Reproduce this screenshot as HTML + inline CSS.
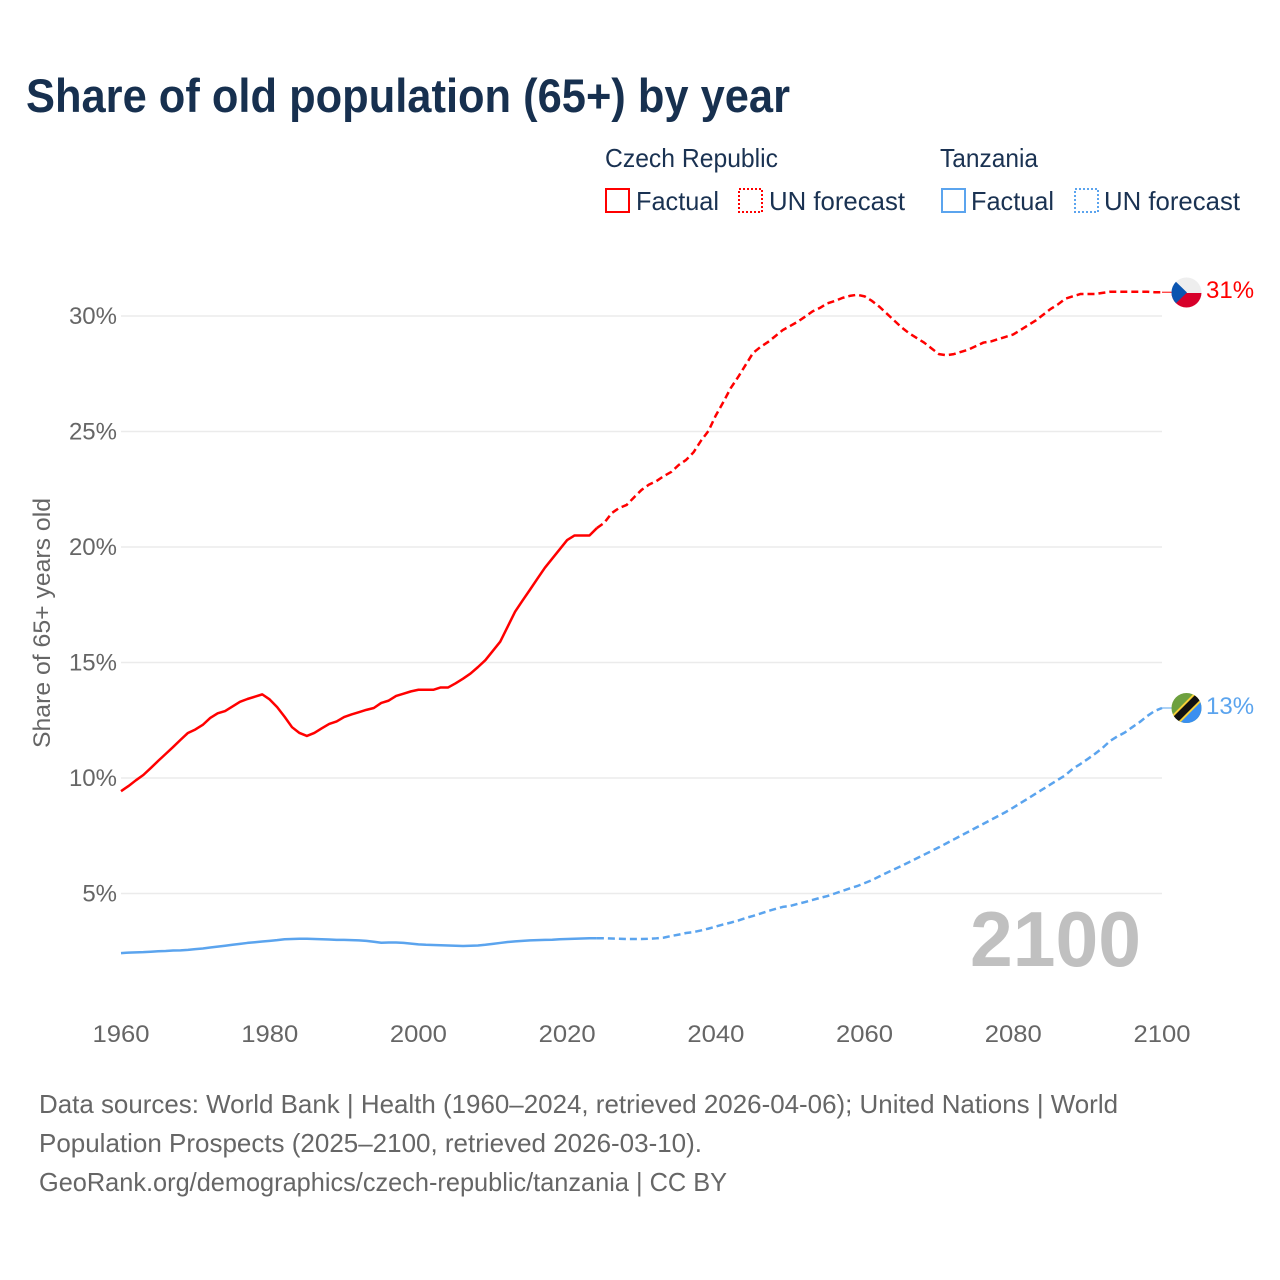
<!DOCTYPE html>
<html lang="en">
<head>
<meta charset="utf-8">
<title>Share of old population (65+) by year</title>
<style>
html,body{margin:0;padding:0;background:#fff;}
svg{display:block;font-family:"Liberation Sans",sans-serif;}
.leg{font-size:26px;fill:#1a3252;}
.foot{font-size:26px;fill:#666;}
.tick{font-size:24px;fill:#666;}
</style>
</head>
<body>
<svg id="chart" width="1280" height="1280" viewBox="0 0 1280 1280" xmlns="http://www.w3.org/2000/svg">
  <defs>
    <clipPath id="clip-cz"><circle cx="1186.5" cy="292.5" r="15"/></clipPath>
    <clipPath id="clip-tz"><circle cx="1186.5" cy="708" r="15"/></clipPath>
  </defs>
  <rect width="1280" height="1280" fill="#fff"/>
  <text x="26" y="112" font-size="47" font-weight="700" fill="#17304f" textLength="764" lengthAdjust="spacingAndGlyphs">Share of old population (65+) by year</text>

  <text class="leg" x="605" y="167" textLength="173" lengthAdjust="spacingAndGlyphs">Czech Republic</text>
  <text class="leg" x="940" y="167" textLength="98" lengthAdjust="spacingAndGlyphs">Tanzania</text>

  <g>
    <rect x="606" y="189" width="23" height="23" fill="none" stroke="#ff0000" stroke-width="2"/>
    <text class="leg" x="636" y="210" textLength="83" lengthAdjust="spacingAndGlyphs">Factual</text>
  </g>
  <g>
    <rect x="739" y="189" width="23" height="23" fill="none" stroke="#ff0000" stroke-width="2" stroke-dasharray="2 2"/>
    <text class="leg" x="769" y="210" textLength="136" lengthAdjust="spacingAndGlyphs">UN forecast</text>
  </g>
  <g>
    <rect x="942" y="189" width="23" height="23" fill="none" stroke="#5ba4ee" stroke-width="2"/>
    <text class="leg" x="971" y="210" textLength="83" lengthAdjust="spacingAndGlyphs">Factual</text>
  </g>
  <g>
    <rect x="1075" y="189" width="23" height="23" fill="none" stroke="#5ba4ee" stroke-width="2" stroke-dasharray="2 2"/>
    <text class="leg" x="1104" y="210" textLength="136" lengthAdjust="spacingAndGlyphs">UN forecast</text>
  </g>

  <g id="grid"></g>
  <g id="yticks"></g>
  <g id="xticks"></g>

  <text transform="translate(50,748) rotate(-90)" font-size="24" fill="#666" textLength="250" lengthAdjust="spacingAndGlyphs">Share of 65+ years old</text>

  <text x="970" y="966" font-size="78" font-weight="700" fill="#c0c0c0" textLength="171" lengthAdjust="spacingAndGlyphs">2100</text>

  <g id="series"></g>

  <g clip-path="url(#clip-cz)">
    <rect x="1171" y="277" width="31" height="16" fill="#eeeeee"/>
    <rect x="1171" y="293" width="31" height="16" fill="#d7002a"/>
    <polygon points="1171,277 1187,292.5 1171,308" fill="#0b55b0"/>
  </g>
  <text id="label-cz" x="1206" y="298" font-size="24" fill="#ff0000">31%</text>

  <g clip-path="url(#clip-tz)">
    <rect x="1171" y="692" width="32" height="32" fill="#6da03f"/>
    <polygon points="1203,692 1203,724 1171,724" fill="#3a8ff0"/>
    <line x1="1173" y1="722" x2="1201" y2="694" stroke="#f7d038" stroke-width="11"/>
    <line x1="1173" y1="722" x2="1201" y2="694" stroke="#111111" stroke-width="7"/>
  </g>
  <text id="label-tz" x="1206" y="714" font-size="24" fill="#5ba4ee">13%</text>

  <text class="foot" x="39" y="1113" textLength="1079" lengthAdjust="spacingAndGlyphs">Data sources: World Bank | Health (1960–2024, retrieved 2026-04-06); United Nations | World</text>
  <text class="foot" x="39" y="1152" textLength="663" lengthAdjust="spacingAndGlyphs">Population Prospects (2025–2100, retrieved 2026-03-10).</text>
  <text class="foot" x="39" y="1191" textLength="688" lengthAdjust="spacingAndGlyphs">GeoRank.org/demographics/czech-republic/tanzania | CC BY</text>
</svg>
<script>
const yTickValues = [5, 10, 15, 20, 25, 30];
const xTickYears = [1960, 1980, 2000, 2020, 2040, 2060, 2080, 2100];
const factualStartYear = 1960;
const forecastStartYear = 2024;

const czechFactual = [
  9.43, 9.65, 9.9, 10.13, 10.43, 10.74, 11.04, 11.34, 11.65, 11.95,
  12.1, 12.3, 12.6, 12.8, 12.9, 13.1, 13.3, 13.42, 13.52, 13.62,
  13.4, 13.07, 12.65, 12.2, 11.95, 11.82, 11.95, 12.15, 12.34, 12.45,
  12.64, 12.75, 12.85, 12.95, 13.03, 13.25, 13.35, 13.55, 13.65, 13.75,
  13.82, 13.82, 13.82, 13.92, 13.92, 14.1, 14.3, 14.52, 14.8, 15.1,
  15.5, 15.9, 16.55, 17.2, 17.68, 18.15, 18.63, 19.1, 19.5, 19.9,
  20.3, 20.5, 20.5, 20.5, 20.82
];
const czechForecast = [
  20.82, 21.05, 21.47, 21.69, 21.82, 22.15,
  22.47, 22.7, 22.85, 23.07, 23.25, 23.55, 23.77, 24.1, 24.6, 25.02,
  25.7, 26.27, 26.88, 27.36, 27.88, 28.4, 28.66, 28.87, 29.13, 29.39,
  29.57, 29.75, 29.97, 30.2, 30.35, 30.55, 30.65, 30.78, 30.87, 30.92,
  30.85, 30.65, 30.4, 30.1, 29.8, 29.5, 29.25, 29.05, 28.85, 28.6,
  28.35, 28.3, 28.35, 28.45, 28.55, 28.7, 28.85, 28.9, 29.0, 29.1,
  29.2, 29.4, 29.6, 29.8, 30.05, 30.3, 30.5, 30.75, 30.85, 30.95,
  30.95, 30.95, 31.0, 31.05, 31.05, 31.05, 31.05, 31.05, 31.05, 31.03, 31.03
];
const tanzaniaFactual = [
  2.42, 2.44, 2.45, 2.46, 2.48, 2.5, 2.51, 2.53, 2.54, 2.56,
  2.59, 2.62, 2.66, 2.7, 2.74, 2.78, 2.82, 2.86, 2.89, 2.92,
  2.95, 2.98, 3.02, 3.03, 3.04, 3.04, 3.03, 3.02, 3.01, 2.99,
  2.99, 2.98, 2.97, 2.95, 2.91, 2.87, 2.88, 2.88, 2.86, 2.83,
  2.8, 2.78, 2.77, 2.76, 2.75, 2.74, 2.73, 2.74, 2.75, 2.78,
  2.82, 2.86, 2.9, 2.93, 2.95, 2.97, 2.98, 2.99, 3.0, 3.02,
  3.03, 3.04, 3.05, 3.06, 3.06
];
const tanzaniaForecast = [
  3.06, 3.06, 3.05, 3.04, 3.03, 3.03,
  3.03, 3.04, 3.06, 3.09, 3.16, 3.22, 3.29, 3.33, 3.4, 3.48,
  3.57, 3.66, 3.74, 3.83, 3.94, 4.03, 4.13, 4.24, 4.33, 4.42,
  4.46, 4.55, 4.63, 4.72, 4.81, 4.89, 5.0, 5.11, 5.22, 5.32,
  5.45, 5.58, 5.74, 5.9, 6.05, 6.2, 6.36, 6.52, 6.68, 6.84,
  7.0, 7.17, 7.34, 7.51, 7.68, 7.85, 8.02, 8.19, 8.36, 8.53,
  8.72, 8.92, 9.12, 9.32, 9.52, 9.72, 9.92, 10.12, 10.4, 10.6,
  10.82, 11.05, 11.3, 11.6, 11.8, 11.97, 12.2, 12.42, 12.68, 12.9, 13.03
];

const SVG_NS = 'http://www.w3.org/2000/svg';
function xScale(year) { return 121 + (year - 1960) * (1162 - 121) / 140; }
function yScale(value) { return 1009 - value * 23.1; }
function pathFrom(values, startYear) {
  return values.map(function (v, i) {
    return (i ? 'L' : 'M') + xScale(startYear + i).toFixed(2) + ' ' + yScale(v).toFixed(2);
  }).join(' ');
}

const gridGroup = document.getElementById('grid');
const yGroup = document.getElementById('yticks');
yTickValues.forEach(function (v) {
  const line = document.createElementNS(SVG_NS, 'line');
  
  
  line.setAttribute('x1', xScale(1960));
  line.setAttribute('x2', xScale(2100));
  line.setAttribute('y1', yScale(v));
  line.setAttribute('y2', yScale(v));
  line.setAttribute('stroke', '#ebebeb');
  line.setAttribute('stroke-width', '1.6');
  gridGroup.appendChild(line);
  const label = document.createElementNS(SVG_NS, 'text');
  
  
  label.setAttribute('class', 'tick');
  label.setAttribute('x', 117);
  label.setAttribute('y', yScale(v) + 8);
  label.setAttribute('text-anchor', 'end');
  label.textContent = v + '%';
  yGroup.appendChild(label);
});

const xGroup = document.getElementById('xticks');
xTickYears.forEach(function (year) {
  const label = document.createElementNS(SVG_NS, 'text');
  
  
  label.setAttribute('class', 'tick');
  label.setAttribute('x', xScale(year) - 28.5);
  label.setAttribute('y', 1042);
  label.setAttribute('textLength', '57');
  label.setAttribute('lengthAdjust', 'spacingAndGlyphs');
  label.textContent = year;
  xGroup.appendChild(label);
});

const seriesGroup = document.getElementById('series');
function addLine(name, values, startYear, color, dashed) {
  const p = document.createElementNS(SVG_NS, 'path');
  
  
  p.setAttribute('d', pathFrom(values, startYear));
  p.setAttribute('fill', 'none');
  p.setAttribute('stroke', color);
  p.setAttribute('stroke-width', '2.5');
  p.setAttribute('stroke-linejoin', 'round');
  if (dashed) {
    p.setAttribute('stroke-dasharray', '7 4');
  }
  seriesGroup.appendChild(p);
}
function addConnector(name, value, color) {
  const c = document.createElementNS(SVG_NS, 'line');
  
  
  c.setAttribute('x1', xScale(2100));
  c.setAttribute('x2', 1172);
  c.setAttribute('y1', yScale(value));
  c.setAttribute('y2', yScale(value));
  c.setAttribute('stroke', color);
  c.setAttribute('stroke-width', '1');
  seriesGroup.appendChild(c);
}
addLine('czech-republic-factual-line', czechFactual, factualStartYear, '#ff0000', false);
addLine('czech-republic-forecast-line', czechForecast, forecastStartYear, '#ff0000', true);
addLine('tanzania-factual-line', tanzaniaFactual, factualStartYear, '#5ba4ee', false);
addLine('tanzania-forecast-line', tanzaniaForecast, forecastStartYear, '#5ba4ee', true);
addConnector('czech-republic-flag-connector', czechForecast[czechForecast.length - 1], '#ff0000');
addConnector('tanzania-flag-connector', tanzaniaForecast[tanzaniaForecast.length - 1], '#5ba4ee');
</script>
</body>
</html>
